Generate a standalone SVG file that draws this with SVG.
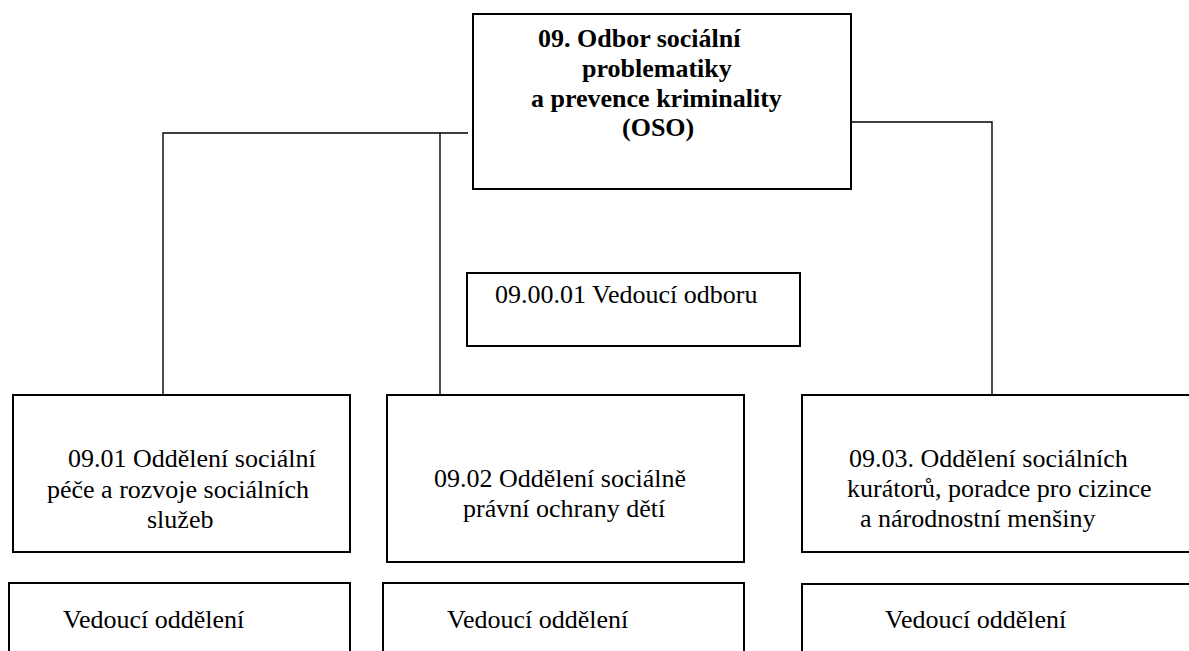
<svg xmlns="http://www.w3.org/2000/svg" width="1189" height="651" viewBox="0 0 1189 651">
<style>
.box{fill:#fff;stroke:#000;stroke-width:2}
.ln{fill:none;stroke:#000;stroke-width:1.4}
.t{font-family:'Liberation Serif','DejaVu Serif','Noto Serif',serif;font-size:26px;fill:#000}
.b{font-weight:bold}
</style>
<rect width="1189" height="651" fill="#fff"/>
<g id="connectors">
<path class="ln" d="M468,133 H163 V395"/>
<path class="ln" d="M440,133 V395"/>
<path class="ln" d="M847,122 H992 V395"/>
</g>
<g class="t" font-family="Liberation Serif, serif">
<g id="n-oso">
<rect class="box" x="473" y="14" width="378" height="175"/>
<text class="b" x="538" y="47">09. Odbor sociální</text>
<text class="b" x="582" y="77">problematiky</text>
<text class="b" x="531" y="107">a prevence kriminality</text>
<text class="b" x="622" y="136">(OSO)</text>
</g>
<g id="n-vedouci-odboru">
<rect class="box" x="467" y="273" width="333" height="73"/>
<text x="495" y="303">09.00.01 Vedoucí odboru</text>
</g>
<g id="n-0901">
<rect class="box" x="13" y="395" width="337" height="157"/>
<text x="68" y="467">09.01 Oddělení sociální</text>
<text x="47" y="498">péče a rozvoje sociálních</text>
<text x="147" y="528">služeb</text>
</g>
<g id="n-0902">
<rect class="box" x="387" y="395" width="357" height="167"/>
<text x="434" y="487">09.02 Oddělení sociálně</text>
<text x="463" y="517">právní ochrany dětí</text>
</g>
<g id="n-0903">
<rect class="box" x="802" y="395" width="400" height="157"/>
<text x="849" y="467">09.03. Oddělení sociálních</text>
<text x="847" y="497">kurátorů, poradce pro cizince</text>
<text x="860" y="527">a národnostní menšiny</text>
</g>
<g id="n-ved1">
<rect class="box" x="9" y="583" width="341" height="90"/>
<text x="63" y="628">Vedoucí oddělení</text>
</g>
<g id="n-ved2">
<rect class="box" x="383" y="583" width="361" height="90"/>
<text x="447" y="628">Vedoucí oddělení</text>
</g>
<g id="n-ved3">
<rect class="box" x="802" y="584" width="400" height="90"/>
<text x="885" y="628">Vedoucí oddělení</text>
</g>
</g>
</svg>
